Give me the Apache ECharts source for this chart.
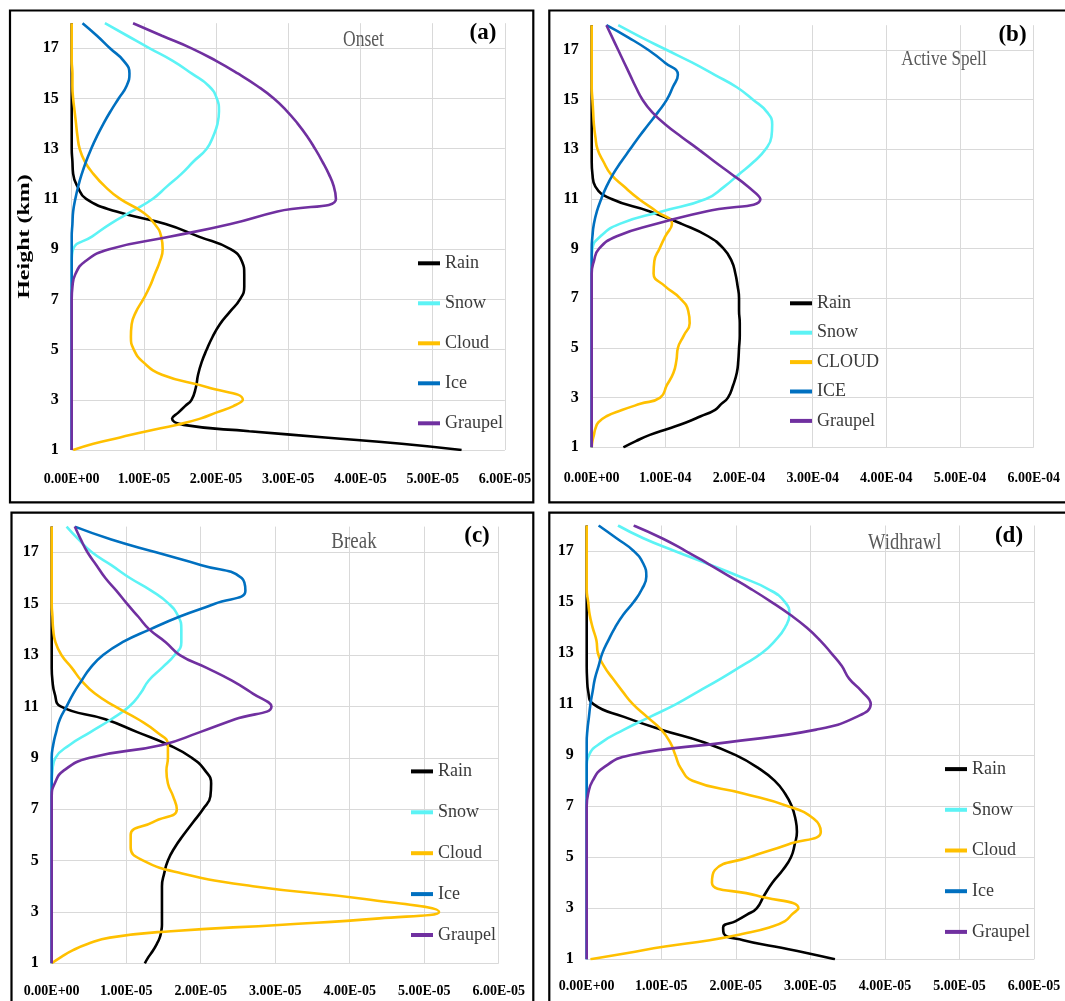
<!DOCTYPE html>
<html>
<head>
<meta charset="utf-8">
<script src="https://cdn.jsdelivr.net/npm/echarts@6/dist/echarts.min.js"></script>
<style>
html,body{margin:0;padding:0;background:#fff;}
#chart{width:1065px;height:1001px;}
</style>
</head>
<body>
<div id="chart"></div>
<script>
// ---------- DATA ----------
// heights (km), top to bottom
const heights = [18,17.5,17,16.5,16,15.5,15,14.5,14,13.5,13,12.5,12,11.5,11,10.5,10,9.5,9,8.5,8,7.5,7,6.5,6,5.5,5,4.5,4,3.5,3,2.75,2.5,2.25,2,1.75,1.5,1.25,1];
const yTickValues = [1,3,5,7,9,11,13,15,17];
const seriesNames = ['Rain','Snow','Cloud','Ice','Graupel'];
const seriesNamesB = ['Rain','Snow','CLOUD','ICE','Graupel'];
const panelTitles = ['Onset','Active Spell','Break','Widhrawl'];
const panelTags = ['(a)','(b)','(c)','(d)'];
const xUnits = [1e-5, 1e-4, 1e-5, 1e-5];   // multiplier of the values below
const xMax = [6e-5, 6e-4, 6e-5, 6e-5];

// Panel (a) Onset, values x 1E-05
const rainA    = [0,0,0,0,0,0,0,0,0,0, 0,0.01,0.02,0.08,0.2,0.62,1.3,1.76,2.2,2.36, 2.39,2.39,2.33,2.19,2.05,1.95,1.87,1.8,1.75,1.72, 1.66,1.57,1.48,1.39,1.55,2.46,3.51,4.57,5.4];
const snowA    = [0.46,0.77,1.08,1.4,1.66,1.9,2.01,2.04,2.02,1.96, 1.87,1.69,1.52,1.32,1.12,0.83,0.53,0.28,0.02,0, 0,0,0,0,0,0,0,0,0,0, 0,0,0,0,0,0,0,0,0];
const cloudA   = [0,0,0,0,0.01,0.01,0.02,0.04,0.06,0.08, 0.11,0.18,0.3,0.46,0.67,0.97,1.15,1.24,1.26,1.22, 1.15,1.08,0.99,0.89,0.83,0.82,0.86,0.99,1.25,1.88, 2.37,2.24,2.01,1.78,1.45,1.04,0.67,0.3,0.02];
const iceA     = [0.15,0.35,0.53,0.72,0.8,0.76,0.65,0.54,0.44,0.35, 0.27,0.2,0.14,0.09,0.05,0.02,0.01,0,0,0, 0,0,0,0,0,0,0,0,0,0, 0,0,0,0,0,0,0,0,0];
const graupelA = [0.85,1.25,1.66,2.0,2.3,2.57,2.8,2.98,3.13,3.26, 3.37,3.47,3.56,3.63,3.66,2.85,2.2,1.37,0.52,0.18, 0.05,0.01,0,0,0,0,0,0,0,0, 0,0,0,0,0,0,0,0,0];

// Panel (b) Active Spell, values x 1E-04
const rainB    = [0,0,0,0,0,0,0,0,0,0, 0,0,0.01,0.05,0.27,0.79,1.22,1.58,1.79,1.9, 1.95,1.98,2.0,2.0,2.01,2.01,2.0,1.99,1.97,1.92, 1.85,1.76,1.67,1.48,1.28,1.04,0.79,0.6,0.43];
const snowB    = [0.36,0.68,1.02,1.36,1.67,1.97,2.19,2.38,2.45,2.44, 2.36,2.2,2.0,1.8,1.55,0.95,0.38,0.12,0.01,0, 0,0,0,0,0,0,0,0,0,0, 0,0,0,0,0,0,0,0,0];
const cloudB   = [0,0,0,0,0,0,0.01,0.02,0.03,0.05, 0.08,0.16,0.26,0.44,0.64,0.88,1.09,1.0,0.92,0.85, 0.84,0.99,1.2,1.31,1.33,1.25,1.17,1.15,1.11,1.02, 0.93,0.66,0.41,0.2,0.09,0.05,0.03,0.01,0];
const iceB     = [0.2,0.5,0.77,0.99,1.17,1.1,1.02,0.9,0.77,0.64, 0.52,0.4,0.29,0.2,0.13,0.07,0.03,0.01,0,0, 0,0,0,0,0,0,0,0,0,0, 0,0,0,0,0,0,0,0,0];
const graupelB = [0.2,0.28,0.36,0.44,0.52,0.6,0.69,0.82,1.0,1.22, 1.45,1.67,1.9,2.12,2.29,1.55,0.88,0.34,0.1,0.03, 0,0,0,0,0,0,0,0,0,0, 0,0,0,0,0,0,0,0,0];

// Panel (c) Break, values x 1E-05
const rainC    = [0,0,0,0,0,0,0,0,0,0, 0,0,0.01,0.04,0.12,0.72,1.15,1.57,1.88,2.06, 2.14,2.13,2.03,1.9,1.77,1.65,1.56,1.51,1.48,1.48, 1.48,1.48,1.48,1.47,1.45,1.41,1.36,1.3,1.25];
const snowC    = [0.2,0.36,0.54,0.8,1.05,1.34,1.57,1.7,1.74,1.74, 1.65,1.48,1.3,1.19,1.04,0.8,0.52,0.24,0.05,0.01, 0,0,0,0,0,0,0,0,0,0, 0,0,0,0,0,0,0,0,0];
const cloudC   = [0,0,0,0,0,0,0,0.01,0.02,0.05, 0.13,0.27,0.4,0.58,0.85,1.16,1.41,1.56,1.56,1.54, 1.56,1.63,1.68,1.36,1.06,1.06,1.23,1.75,2.7,4.2, 5.2,4.4,3.1,1.6,0.78,0.48,0.28,0.13,0];
const iceC     = [0.31,0.8,1.4,2.01,2.55,2.6,2.19,1.72,1.32,0.95, 0.69,0.52,0.4,0.29,0.2,0.11,0.06,0.02,0,0, 0,0,0,0,0,0,0,0,0,0, 0,0,0,0,0,0,0,0,0];
const graupelC = [0.31,0.39,0.48,0.6,0.72,0.87,1.01,1.16,1.31,1.53, 1.72,2.08,2.42,2.7,2.95,2.46,1.99,1.48,0.51,0.16, 0.04,0,0,0,0,0,0,0,0,0, 0,0,0,0,0,0,0,0,0];

// Panel (d) Widhrawl, values x 1E-05
const rainD    = [0,0,0,0,0,0,0,0,0,0, 0,0,0.005,0.02,0.09,0.5,1.0,1.58,2.0,2.3, 2.52,2.66,2.75,2.8,2.82,2.79,2.74,2.63,2.49,2.38, 2.28,2.15,2.0,1.83,1.84,2.1,2.52,2.95,3.33];
const snowD    = [0.42,0.76,1.18,1.62,2.05,2.44,2.66,2.72,2.66,2.53, 2.35,2.08,1.8,1.5,1.2,0.85,0.5,0.2,0.03,0, 0,0,0,0,0,0,0,0,0,0, 0,0,0,0,0,0,0,0,0];
const cloudD   = [0,0,0,0,0,0,0.02,0.04,0.08,0.13, 0.15,0.23,0.35,0.48,0.62,0.81,1.0,1.12,1.19,1.26, 1.42,2.1,2.7,3.05,3.14,2.7,2.18,1.72,1.68,2.28, 2.84,2.75,2.66,2.45,2.1,1.65,1.05,0.55,0.05];
const iceD     = [0.16,0.4,0.63,0.76,0.8,0.74,0.63,0.49,0.38,0.29, 0.21,0.16,0.11,0.08,0.05,0.03,0.01,0,0,0, 0,0,0,0,0,0,0,0,0,0, 0,0,0,0,0,0,0,0,0];
const graupelD = [0.63,1.01,1.33,1.63,1.92,2.21,2.48,2.73,2.95,3.13, 3.28,3.42,3.52,3.69,3.81,3.62,3.08,1.88,0.58,0.22, 0.08,0.02,0,0,0,0,0,0,0,0, 0,0,0,0,0,0,0,0,0];

// ---------- STYLE / LAYOUT ----------
const colors = ['#000000','#5CF3F5','#FFC000','#0070C0','#7030A0'];
const FONT = "'Liberation Serif','Times New Roman',serif";
const panelData = [
  [rainA, snowA, cloudA, iceA, graupelA],
  [rainB, snowB, cloudB, iceB, graupelB],
  [rainC, snowC, cloudC, iceC, graupelC],
  [rainD, snowD, cloudD, iceD, graupelD]
];
const grids = [
  {left:71.7, top:23.2, width:433.2, height:426.8},
  {left:591.7, top:25.2, width:442, height:422.1},
  {left:51.7, top:526.6, width:447, height:436.7},
  {left:586.7, top:525.5, width:447.3, height:433.8}
];
const xLabelMargin = [22, 24.5, 21, 20];
const legendPos = [
  {left:418, top:254.3, itemGap:22},
  {left:790, top:294.3, itemGap:11.4},
  {left:411, top:762.4, itemGap:22.9},
  {left:945, top:760.1, itemGap:22.7}
];
const titlePos = [
  {x:363.5, y:40, size:24, sx:0.73},
  {x:944, y:59, size:22, sx:0.78},
  {x:354, y:541.7, size:24, sx:0.79},
  {x:904.7, y:542.5, size:24, sx:0.77}
];
const tagPos = [[483,33],[1012.5,35],[477,536],[1009,536]];
const boxes = [
  {x:10, y:10.5, w:523.3, h:491.8},
  {x:549.3, y:10.5, w:530, h:491.8},
  {x:11.5, y:512.7, w:521.8, h:500},
  {x:549.3, y:512.7, w:530, h:500}
];

function sci(v) {
  if (Math.abs(v) < 1e-15) return '0.00E+00';
  const e = Math.floor(Math.log10(Math.abs(v)) + 1e-9);
  const m = v / Math.pow(10, e);
  return m.toFixed(2) + 'E' + (e < 0 ? '-' : '+') + String(Math.abs(e)).padStart(2, '0');
}

const option = {
  animation: false,
  backgroundColor: '#ffffff',
  grid: [], xAxis: [], yAxis: [], series: [], legend: [], graphic: []
};

for (let p = 0; p < 4; p++) {
  option.grid.push(Object.assign({containLabel:false}, grids[p]));
  option.xAxis.push({
    type:'value', gridIndex:p, min:0, max:xMax[p], interval:xUnits[p],
    axisLine:{show:false}, axisTick:{show:false},
    splitLine:{show:true, lineStyle:{color:'#d9d9d9', width:1}},
    axisLabel:{formatter:sci, fontFamily:FONT, fontWeight:'bold', fontSize:14, color:'#000', margin:xLabelMargin[p]}
  });
  option.yAxis.push({
    type:'value', gridIndex:p, min:yTickValues[0], max:heights[0], interval:yTickValues[1]-yTickValues[0],
    axisLine:{show:false}, axisTick:{show:false},
    splitLine:{show:true, showMaxLine:false, lineStyle:{color:'#d9d9d9', width:1}},
    axisLabel:{fontFamily:FONT, fontWeight:'bold', fontSize:16, color:'#000', margin:13, showMaxLabel:false}
  });
  const names = p === 1 ? seriesNamesB : seriesNames;
  for (let s = 0; s < 5; s++) {
    const vals = panelData[p][s];
    option.series.push({
      type:'line', name:names[s], xAxisIndex:p, yAxisIndex:p,
      data: heights.map((h, i) => [vals[i] * xUnits[p], h]),
      smooth:0.5, showSymbol:false, symbol:'none',
      lineStyle:{color:colors[s], width:2.6},
      itemStyle:{color:colors[s]},
      emphasis:{disabled:true}, silent:true, z:2+s
    });
  }
  option.legend.push({
    orient:'vertical', left:legendPos[p].left, top:legendPos[p].top, itemGap:legendPos[p].itemGap,
    itemWidth:22, itemHeight:4, icon:'rect', padding:0, selectedMode:false,
    textStyle:{fontFamily:FONT, fontSize:18, color:'#3a3a3a'},
    data: names.slice()
  });
  option.graphic.push({
    type:'rect', shape:{x:boxes[p].x, y:boxes[p].y, width:boxes[p].w, height:boxes[p].h},
    style:{fill:null, stroke:'#000', lineWidth:2.2}, silent:true, z:100
  });
  option.graphic.push({
    type:'text', x:titlePos[p].x, y:titlePos[p].y, scaleX:titlePos[p].sx, scaleY:1,
    style:{text:panelTitles[p], font:'normal ' + titlePos[p].size + 'px ' + FONT, fill:'#595959', textAlign:'center', textVerticalAlign:'middle'},
    silent:true, z:100
  });
  option.graphic.push({
    type:'text', x:tagPos[p][0], y:tagPos[p][1],
    style:{text:panelTags[p], font:'bold 23px ' + FONT, fill:'#000', textAlign:'center', textVerticalAlign:'middle'},
    silent:true, z:100
  });
}
option.graphic.push({
  type:'text', x:25, y:236.5, rotation:Math.PI/2, scaleX:1, scaleY:0.68,
  style:{text:'Height (km)', font:'bold 24px ' + FONT, fill:'#000', textAlign:'center', textVerticalAlign:'middle'},
  silent:true, z:100
});

const chart = echarts.init(document.getElementById('chart'), null, {renderer:'canvas', width:1065, height:1001});
chart.setOption(option);
</script>
</body>
</html>
